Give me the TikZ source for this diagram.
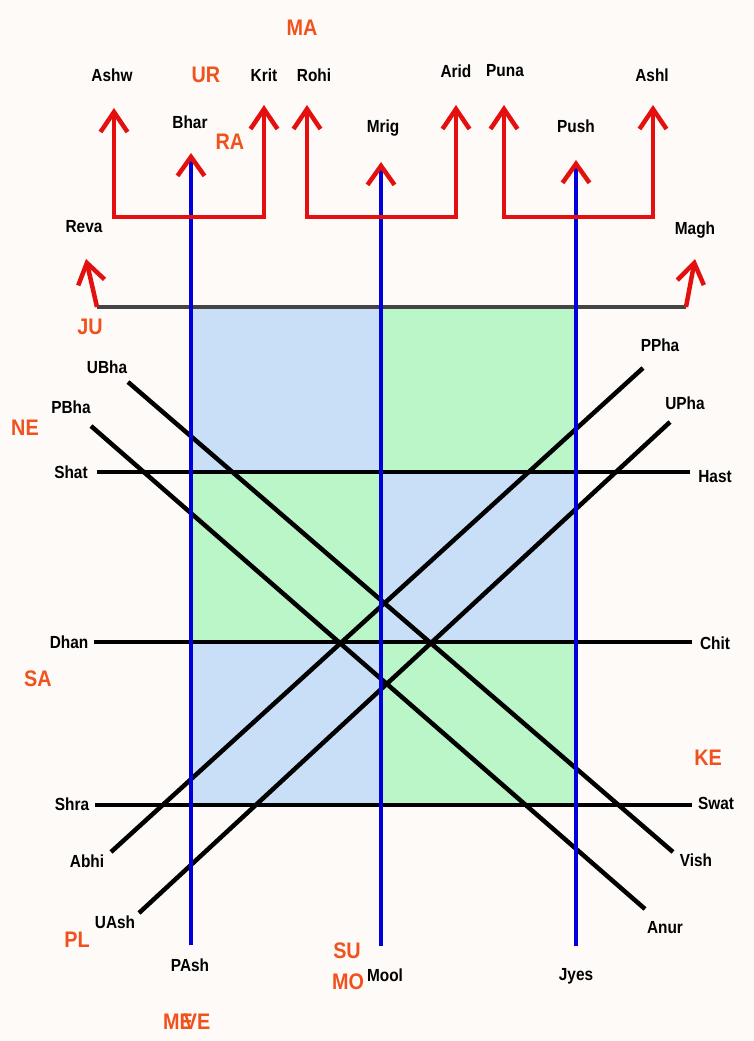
\documentclass[tikz,border=0pt]{standalone}
\usepackage{fontspec}
\newfontfamily\nakfont[FakeStretch=0.88]{Liberation Sans}
\usetikzlibrary{arrows.meta}

\definecolor{paper}{RGB}{254,250,248}
\definecolor{cellBlue}{RGB}{201,223,248}
\definecolor{cellGreen}{RGB}{186,246,200}
\definecolor{lineRed}{RGB}{228,16,16}
\definecolor{lineBlue}{RGB}{0,0,220}
\definecolor{lineGrey}{RGB}{68,68,68}
\definecolor{tagOrange}{RGB}{240,82,30}

\begin{document}
\begin{tikzpicture}[x=1pt,y=-1pt]

\tikzstyle{nak}=[inner sep=0pt,text=black,font=\nakfont\bfseries\fontsize{17.5}{17.5}\selectfont]
\tikzstyle{planet}=[inner sep=0pt,text=tagOrange,font=\nakfont\bfseries\fontsize{22.5}{22.5}\selectfont]
\tikzstyle{blackLine}=[line width=4.5pt,black]
\tikzstyle{greyLine}=[line width=4.5pt,lineGrey]
\tikzstyle{redTip}=[line width=4.5pt,lineRed,-{Straight Barb[length=20pt,width=27pt]}]
\tikzstyle{redU}=[line width=4.5pt,lineRed,{Straight Barb[length=20pt,width=27pt]}-{Straight Barb[length=20pt,width=27pt]}]
\tikzstyle{blueLine}=[line width=3.5pt,lineBlue,-{Straight Barb[color=lineRed,line width=4.5pt,length=19pt,width=27pt]}]

\fill[paper] (0,0) rectangle (754,1041);
\useasboundingbox (0,0) rectangle (754,1041);

%Cells
\fill[cellBlue]  (191,307) rectangle (381,472);
\fill[cellGreen] (381,307) rectangle (576,472);
\fill[cellGreen] (191,472) rectangle (381,642);
\fill[cellBlue]  (381,472) rectangle (576,642);
\fill[cellBlue]  (191,642) rectangle (381,805);
\fill[cellGreen] (381,642) rectangle (576,805);

%planet marks
\node[planet] (ma) at (302,28) {MA};
\node[planet] (ur) at (206,75) {UR};
\node[planet] (ra) at (230,142) {RA};
\node[planet] (ju) at (90,327) {JU};
\node[planet] (ne) at (25,428) {NE};
\node[planet] (sa) at (38,679) {SA};
\node[planet] (ke) at (708,758) {KE};
\node[planet] (pl) at (77,940) {PL};
\node[planet] (su) at (347,951) {SU};
\node[planet] (mo) at (348,982) {MO};
\node[planet] (me) at (178,1022) {ME};
\node[planet] (ve) at (197,1022) {VE};

%top nodes
\node[nak] (ashw) at (112,75) {Ashw};
\node[nak] (krit) at (264,75) {Krit};
\node[nak] (rohi) at (314,75) {Rohi};
\node[nak] (arid) at (456,71) {Arid};
\node[nak] (puna) at (505,71) {Puna};
\node[nak] (ashl) at (652,75) {Ashl};
\node[nak] (bhar) at (190,122) {Bhar};
\node[nak] (mrig) at (383,128) {Mrig};
\node[nak] (push) at (576,126) {Push};
\node[nak] (reva) at (84,227) {Reva};
\node[nak] (magh) at (695,230) {Magh};

%left nodes
\node[nak] (ubha) at (107,367) {UBha};
\node[nak] (pbha) at (71,407) {PBha};
\node[nak] (shat) at (71,472) {Shat};
\node[nak] (dhan) at (69,642) {Dhan};
\node[nak] (shra) at (72,804) {Shra};
\node[nak] (abhi) at (87,861) {Abhi};
\node[nak] (uash) at (115,922) {UAsh};

%right nodes
\node[nak] (ppha) at (660,345) {PPha};
\node[nak] (upha) at (685,403) {UPha};
\node[nak] (hast) at (715,477) {Hast};
\node[nak] (chit) at (715,643) {Chit};
\node[nak] (swat) at (716,803) {Swat};
\node[nak] (vish) at (696,860) {Vish};
\node[nak] (anur) at (665,928) {Anur};

%bottom nodes
\node[nak] (pash) at (190,965) {PAsh};
\node[nak] (mool) at (385,975) {Mool};
\node[nak] (jyes) at (576,976) {Jyes};

%line ends
\coordinate (juL) at (97,307);
\coordinate (juR) at (686,307);
\coordinate (revaTip) at (86,259);
\coordinate (maghTip) at (695,259);
\coordinate (ashwTip) at (114,108);
\coordinate (ashwFoot) at (114,217);
\coordinate (kritFoot) at (264,217);
\coordinate (kritTip) at (264,105);
\coordinate (rohiTip) at (307,105);
\coordinate (rohiFoot) at (307,217);
\coordinate (aridFoot) at (456,217);
\coordinate (aridTip) at (456,105);
\coordinate (punaTip) at (504,105);
\coordinate (punaFoot) at (504,217);
\coordinate (ashlFoot) at (653,217);
\coordinate (ashlTip) at (653,105);
\coordinate (bharTip) at (191,153);
\coordinate (mrigTip) at (381,162);
\coordinate (pushTip) at (576,160);
\coordinate (pashEnd) at (191,945);
\coordinate (moolEnd) at (381,946);
\coordinate (jyesEnd) at (576,946);
\coordinate (shatEnd) at (97,472);
\coordinate (hastEnd) at (690,472);
\coordinate (dhanEnd) at (94,642);
\coordinate (chitEnd) at (692,642);
\coordinate (shraEnd) at (95,805);
\coordinate (swatEnd) at (692,805);
\coordinate (ubhaEnd) at (128,382);
\coordinate (vishEnd) at (673,852);
\coordinate (pbhaEnd) at (91,426);
\coordinate (anurEnd) at (645,909);
\coordinate (pphaEnd) at (643,368);
\coordinate (abhiEnd) at (111,852);
\coordinate (uphaEnd) at (670,422);
\coordinate (uashEnd) at (139,913);

% connections
\draw[greyLine] (juL) -- (juR);
\draw[redTip] (juL) -- (revaTip);
\draw[redTip] (juR) -- (maghTip);

\draw[blackLine] (shatEnd) -- (hastEnd);
\draw[blackLine] (dhanEnd) -- (chitEnd);
\draw[blackLine] (shraEnd) -- (swatEnd);
\draw[blackLine] (ubhaEnd) -- (vishEnd);
\draw[blackLine] (pbhaEnd) -- (anurEnd);
\draw[blackLine] (pphaEnd) -- (abhiEnd);
\draw[blackLine] (uphaEnd) -- (uashEnd);

\draw[blueLine] (pashEnd) -- (bharTip);
\draw[blueLine] (moolEnd) -- (mrigTip);
\draw[blueLine] (jyesEnd) -- (pushTip);

\draw[redU] (ashwTip) -- (ashwFoot) -- (kritFoot) -- (kritTip);
\draw[redU] (rohiTip) -- (rohiFoot) -- (aridFoot) -- (aridTip);
\draw[redU] (punaTip) -- (punaFoot) -- (ashlFoot) -- (ashlTip);

\end{tikzpicture}
\end{document}
